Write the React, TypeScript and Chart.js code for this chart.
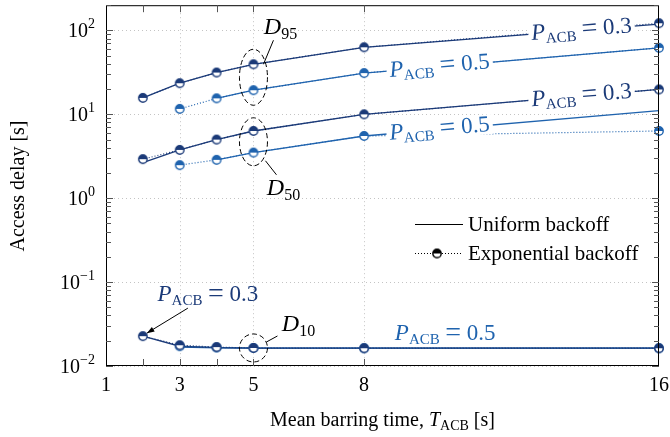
import React, { useEffect, useRef } from "react";
import { Chart, registerables } from "chart.js";

Chart.register(...registerables);

// Mean barring time values [s]
const T_ACB = [2, 3, 4, 5, 8, 16];
const X_LABELS = [1, 3, 5, 8, 16];
const X_TICKS = [2, 3, 4, 5, 8];
const Y_DECADES = [-2, -1, 0, 1, 2];

// Exponential backoff delays [s]
const D95_P03_EXP = [15.7, 23.5, 31.5, 39.5, 63, 122];
const D95_P05_EXP = [null, 11.6, 15.5, 19.4, 31, 62];
const D50_P03_EXP = [2.92, 3.77, 5.0, 6.33, 10.0, 19.8];
const D50_P05_EXP = [null, 2.48, 2.87, 3.5, 5.52, 6.33];
const D10_P03_EXP = [0.0227, 0.0177, 0.0168, 0.0164, 0.0163, 0.0163];
const D10_P05_EXP = [null, 0.0172, 0.0166, 0.0164, 0.0163, 0.0163];

// Uniform backoff delays [s]
const D95_P03_UNI = [15.7, 23.5, 31.5, 39.5, 63, 119];
const D95_P05_UNI = [null, null, 15.5, 19.4, 31, 62];
const D50_P03_UNI = [2.66, 3.77, 5.0, 6.33, 10.0, 19.8];
const D50_P05_UNI = [null, null, 2.87, 3.5, 5.52, 11.1];
const D10_P03_UNI = [0.0227, 0.0172, 0.0166, 0.0163, 0.0163, 0.0163];
const D10_P05_UNI = [null, 0.0168, 0.0165, 0.0163, 0.0163, 0.0163];

const NAVY = "#1b3a78";
const BLUE = "#1f63ae";
const FONT = '"Liberation Serif", "DejaVu Serif", serif';

type Seg = { t: string; size: number; italic?: boolean; dy?: number };

const fontOf = (s: Seg) => `${s.italic ? "italic " : ""}${s.size}px ${FONT}`;

function richWidth(ctx: CanvasRenderingContext2D, segs: Seg[]) {
  let w = 0;
  for (const s of segs) {
    ctx.font = fontOf(s);
    w += ctx.measureText(s.t).width;
  }
  return w;
}

function drawRich(ctx: CanvasRenderingContext2D, segs: Seg[], x: number, y: number, color: string) {
  ctx.fillStyle = color;
  ctx.textAlign = "left";
  ctx.textBaseline = "alphabetic";
  let cx = x;
  for (const s of segs) {
    ctx.font = fontOf(s);
    ctx.fillText(s.t, cx, y + (s.dy || 0));
    cx += ctx.measureText(s.t).width;
  }
}

const pAcb = (v: string): Seg[] => [
  { t: "P", size: 23, italic: true },
  { t: "ACB", size: 15, dy: 4 },
  { t: " ", size: 22 },
  { t: "=", size: 28, dy: 1 },
  { t: " " + v, size: 23 },
];

const dLabel = (q: string): Seg[] => [
  { t: "D", size: 24, italic: true },
  { t: q, size: 16, dy: 5 },
];

function halfMarker(color: string) {
  const r = 4.2;
  const size = 14;
  const c = document.createElement("canvas");
  c.width = size;
  c.height = size;
  const ctx = c.getContext("2d")!;
  const m = size / 2;
  ctx.beginPath();
  ctx.arc(m, m, r, 0, Math.PI * 2);
  ctx.fillStyle = "#fff";
  ctx.fill();
  ctx.beginPath();
  ctx.arc(m, m, r, Math.PI, Math.PI * 2);
  ctx.closePath();
  ctx.fillStyle = color;
  ctx.fill();
  ctx.beginPath();
  ctx.arc(m, m, r, 0, Math.PI * 2);
  ctx.strokeStyle = color;
  ctx.lineWidth = 1.4;
  ctx.stroke();
  return c;
}

const toPoints = (vals: (number | null)[]) =>
  T_ACB.map((x, i) => ({ x, y: vals[i] })).filter((p) => p.y != null) as { x: number; y: number }[];

export default function App() {
  const ref = useRef<HTMLCanvasElement>(null);

  useEffect(() => {
    const navyMarker = halfMarker(NAVY);
    const blueMarker = halfMarker(BLUE);
    const blackMarker = halfMarker("#000");

    const expSet = (vals: (number | null)[], color: string, marker: HTMLCanvasElement) => ({
      data: toPoints(vals),
      borderColor: color,
      borderWidth: 1.2,
      borderDash: [1, 2],
      pointStyle: marker,
      pointRadius: 4,
      clip: false as const,
    });
    const uniSet = (vals: (number | null)[], color: string) => ({
      data: toPoints(vals),
      borderColor: color,
      borderWidth: 1.3,
      pointRadius: 0,
      clip: false as const,
    });

    const annotations = {
      id: "annotations",
      beforeDatasetsDraw(chart: any) {
        const { ctx, chartArea: a, scales } = chart;
        const xs = scales.x;
        const ys = scales.y;
        ctx.save();
        ctx.strokeStyle = "#c4c4c4";
        ctx.lineWidth = 1;
        ctx.setLineDash([1, 3]);
        for (const k of Y_DECADES) {
          const y = Math.round(ys.getPixelForValue(Math.pow(10, k))) + 0.5;
          ctx.beginPath();
          ctx.moveTo(a.left, y);
          ctx.lineTo(a.right, y);
          ctx.stroke();
        }
        for (const v of [3, 5, 8]) {
          const x = Math.round(xs.getPixelForValue(v)) + 0.5;
          ctx.beginPath();
          ctx.moveTo(x, a.top);
          ctx.lineTo(x, a.bottom);
          ctx.stroke();
        }
        ctx.restore();
      },
      afterDatasetsDraw(chart: any) {
        const { ctx, chartArea: a, scales } = chart;
        const xs = scales.x;
        const ys = scales.y;
        const px = (v: number) => xs.getPixelForValue(v);
        const py = (v: number) => ys.getPixelForValue(v);

        // labels laid along a series line, breaking it
        const inline = (vals: (number | null)[], xv: number, segs: Seg[], color: string) => {
          let i = 0;
          while (i < T_ACB.length - 2 && T_ACB[i + 1] < xv) i++;
          const x1 = px(T_ACB[i]), x2 = px(T_ACB[i + 1]);
          const y1 = py(vals[i] as number), y2 = py(vals[i + 1] as number);
          const t = (px(xv) - x1) / (x2 - x1);
          const cx = x1 + t * (x2 - x1);
          const cy = y1 + t * (y2 - y1);
          const ang = Math.atan2(y2 - y1, x2 - x1);
          const w = richWidth(ctx, segs);
          ctx.save();
          ctx.translate(cx, cy);
          ctx.rotate(ang);
          ctx.fillStyle = "#fff";
          ctx.fillRect(-w / 2 - 3, -11, w + 6, 20);
          drawRich(ctx, segs, -w / 2, 6, color);
          ctx.restore();
        };
        inline(D95_P03_UNI, 13.9, pAcb("0.3"), NAVY);
        inline(D50_P03_UNI, 13.9, pAcb("0.3"), NAVY);
        inline(D95_P05_UNI, 10.05, pAcb("0.5"), BLUE);
        inline(D50_P05_UNI, 10.05, pAcb("0.5"), BLUE);

        // dashed ellipses with their quantile labels
        ctx.save();
        ctx.strokeStyle = "#000";
        ctx.lineWidth = 1;
        const ellipse = (cx: number, cy: number, rx: number, ry: number) => {
          ctx.setLineDash([5, 3]);
          ctx.beginPath();
          ctx.ellipse(cx, cy, rx, ry, 0, 0, Math.PI * 2);
          ctx.stroke();
          ctx.setLineDash([]);
        };
        const leader = (x1: number, y1: number, x2: number, y2: number) => {
          ctx.beginPath();
          ctx.moveTo(x1, y1);
          ctx.lineTo(x2, y2);
          ctx.stroke();
        };
        const centered = (segs: Seg[], cx: number, base: number, color: string) => {
          const w = richWidth(ctx, segs);
          drawRich(ctx, segs, cx - w / 2, base, color);
        };

        const x5 = px(5);
        const e95 = (py(D95_P03_EXP[3] as number) + py(D95_P05_EXP[3] as number)) / 2;
        ellipse(x5, e95, 14, 28);
        leader(x5 + 10, e95 - 13, x5 + 20, e95 - 37);
        centered(dLabel("95"), x5 + 27, e95 - 43, "#000");

        const e50 = (py(D50_P03_EXP[3] as number) + py(D50_P05_EXP[3] as number)) / 2;
        ellipse(x5, e50, 14, 24);
        leader(x5 + 12, e50 + 19, x5 + 23, e50 + 33);
        centered(dLabel("50"), x5 + 30, e50 + 53, "#000");

        const e10 = py(D10_P03_EXP[3] as number);
        ellipse(x5, e10, 14, 14);
        leader(x5 + 13, e10 - 6, x5 + 24, e10 - 12);
        centered(dLabel("10"), x5 + 45, e10 - 17, "#000");

        // arrow to the first D10 point
        const ax = px(T_ACB[0]);
        const ay = py(D10_P03_EXP[0] as number);
        const tx = ax + 4, ty = ay - 3;
        const sx = ax + 45, sy = ay - 28;
        leader(sx, sy, tx, ty);
        const ang = Math.atan2(ty - sy, tx - sx);
        ctx.fillStyle = "#000";
        ctx.beginPath();
        ctx.moveTo(tx, ty);
        ctx.lineTo(tx - 8 * Math.cos(ang - 0.35), ty - 8 * Math.sin(ang - 0.35));
        ctx.lineTo(tx - 8 * Math.cos(ang + 0.35), ty - 8 * Math.sin(ang + 0.35));
        ctx.closePath();
        ctx.fill();
        centered(pAcb("0.3"), ax + 65, ay - 35, NAVY);

        centered(pAcb("0.5"), px(10.2), py(D10_P05_EXP[4] as number) - 8, BLUE);
        ctx.restore();

        // legend
        ctx.save();
        const lx1 = 415, lx2 = 463;
        ctx.strokeStyle = "#000";
        ctx.lineWidth = 1.2;
        ctx.beginPath();
        ctx.moveTo(lx1, 224.5);
        ctx.lineTo(lx2, 224.5);
        ctx.stroke();
        ctx.setLineDash([1, 2]);
        ctx.beginPath();
        ctx.moveTo(lx1, 253.5);
        ctx.lineTo(lx2, 253.5);
        ctx.stroke();
        ctx.setLineDash([]);
        ctx.drawImage(blackMarker, 437 - blackMarker.width / 2, 253.5 - blackMarker.height / 2);
        drawRich(ctx, [{ t: "Uniform backoff", size: 21 }], 468, 231, "#000");
        drawRich(ctx, [{ t: "Exponential backoff", size: 21 }], 468, 260, "#000");
        ctx.restore();

        // frame and ticks
        ctx.save();
        ctx.strokeStyle = "#000";
        ctx.lineWidth = 1;
        ctx.strokeRect(a.left + 0.5, a.top + 0.5, a.right - a.left - 1, a.bottom - a.top - 1);
        ctx.strokeStyle = "#555";
        for (const v of X_TICKS) {
          const x = Math.round(px(v)) + 0.5;
          ctx.beginPath();
          ctx.moveTo(x, a.bottom);
          ctx.lineTo(x, a.bottom - 7);
          ctx.moveTo(x, a.top);
          ctx.lineTo(x, a.top + 7);
          ctx.stroke();
        }
        for (const k of Y_DECADES) {
          for (let m = 1; m <= 9; m++) {
            const v = m * Math.pow(10, k);
            if (v > ys.max) continue;
            const y = Math.round(py(v)) + 0.5;
            const len = m === 1 ? 7 : 5;
            ctx.beginPath();
            ctx.moveTo(a.left, y);
            ctx.lineTo(a.left + len, y);
            ctx.moveTo(a.right, y);
            ctx.lineTo(a.right - len, y);
            ctx.stroke();
          }
        }
        ctx.restore();

        // tick labels
        for (const v of X_LABELS) {
          centered([{ t: String(v), size: 20 }], px(v), 391, "#000");
        }
        for (const k of Y_DECADES) {
          const segs: Seg[] = [
            { t: "10", size: 20 },
            { t: k < 0 ? "\u2212" + Math.abs(k) : String(k), size: 14, dy: -9 },
          ];
          const w = richWidth(ctx, segs);
          drawRich(ctx, segs, 95 - w, py(Math.pow(10, k)) + 7, "#000");
        }

        // axis titles
        centered(
          [
            { t: "Mean barring time, ", size: 20 },
            { t: "T", size: 20, italic: true },
            { t: "ACB", size: 14, dy: 4 },
            { t: " [s]", size: 20 },
          ],
          (a.left + a.right) / 2,
          426,
          "#000"
        );
        ctx.save();
        ctx.translate(24, 186);
        ctx.rotate(-Math.PI / 2);
        centered([{ t: "Access delay [s]", size: 20 }], 0, 0, "#000");
        ctx.restore();
      },
    };

    const chart = new Chart(ref.current!, {
      type: "line",
      data: {
        datasets: [
          expSet(D95_P03_EXP, NAVY, navyMarker),
          expSet(D95_P05_EXP, BLUE, blueMarker),
          expSet(D50_P03_EXP, NAVY, navyMarker),
          expSet(D50_P05_EXP, BLUE, blueMarker),
          expSet(D10_P03_EXP, NAVY, navyMarker),
          expSet(D10_P05_EXP, BLUE, blueMarker),
          uniSet(D95_P03_UNI, NAVY),
          uniSet(D95_P05_UNI, BLUE),
          uniSet(D50_P03_UNI, NAVY),
          uniSet(D50_P05_UNI, BLUE),
          uniSet(D10_P03_UNI, NAVY),
          uniSet(D10_P05_UNI, BLUE),
        ] as any,
      },
      options: {
        responsive: false,
        maintainAspectRatio: false,
        animation: false,
        events: [],
        layout: { padding: { left: 0, right: 11, top: 4, bottom: 0 } },
        plugins: { legend: { display: false }, tooltip: { enabled: false } },
        scales: {
          x: {
            type: "linear",
            min: 1,
            max: 16,
            grid: { display: false },
            border: { display: false },
            ticks: { display: false },
            afterFit: (s: any) => {
              s.height = 71;
            },
          },
          y: {
            type: "logarithmic",
            min: 0.01,
            max: 200,
            grid: { display: false },
            border: { display: false },
            ticks: { display: false },
            afterFit: (s: any) => {
              s.width = 106;
            },
          },
        },
      },
      plugins: [annotations],
    });
    return () => chart.destroy();
  }, []);

  return (
    <div style={{ position: "fixed", left: 0, top: 0, width: 670, height: 437, background: "#fff" }}>
      <canvas ref={ref} width={670} height={437} style={{ display: "block" }} />
    </div>
  );
}
